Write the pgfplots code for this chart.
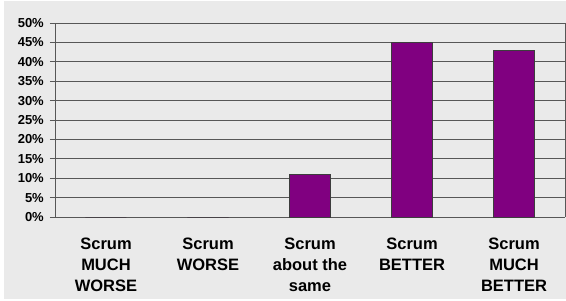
\documentclass[border=0pt]{standalone}
\usepackage{pgfplots}
\pgfplotsset{compat=1.18}
\usepackage{fontspec}
\setmainfont{Liberation Sans}
\definecolor{bg}{HTML}{EAEAEA}
\definecolor{gridc}{HTML}{575757}
\definecolor{barc}{HTML}{800080}
\begin{document}
\begin{tikzpicture}
\fill[white] (-55bp,-84bp) rectangle (511bp,217bp);
\fill[bg] (-51bp,-82bp) rectangle (511bp,216bp);
\begin{axis}[
  at={(0,0)}, anchor=south west,
  scale only axis, width=510bp, height=194bp,
  xmin=-0.5, xmax=4.5, ymin=0, ymax=50,
  axis background/.style={fill=bg},
  axis line style={gridc, line width=0.8bp},
  axis x line*=bottom, axis y line*=left,
  ytick={0,5,...,50},
  yticklabel={\pgfmathprintnumber{\tick}\%},
  /pgf/number format/assume math mode=true,
  yticklabel style={font=\fontsize{13bp}{15bp}\selectfont\bfseries, inner sep=0pt, xshift=-6bp},
  ymajorgrids, grid style={gridc, line width=0.8bp},
  y tick style={gridc, line width=0.8bp}, major tick length=5bp,
  tick align=outside,
  xtick=data, x tick style={draw=none},
  xticklabels={{Scrum\\MUCH\\WORSE},{Scrum\\WORSE},{Scrum\\about the\\same},{Scrum\\BETTER},{Scrum\\MUCH\\BETTER}},
  xticklabel style={font=\fontsize{16.5bp}{21bp}\selectfont\bfseries, align=center, anchor=north, inner sep=0pt, yshift=-16bp},
  ybar, bar width=41bp,
  clip=false,
]
\addplot[fill=barc, draw=gridc!70!black, line width=0.8bp] coordinates {(0,0) (1,0) (2,11) (3,45) (4,43)};
\draw[gridc, line width=0.8bp] (rel axis cs:1,0) -- (rel axis cs:1,1);
\end{axis}
\end{tikzpicture}
\end{document}
